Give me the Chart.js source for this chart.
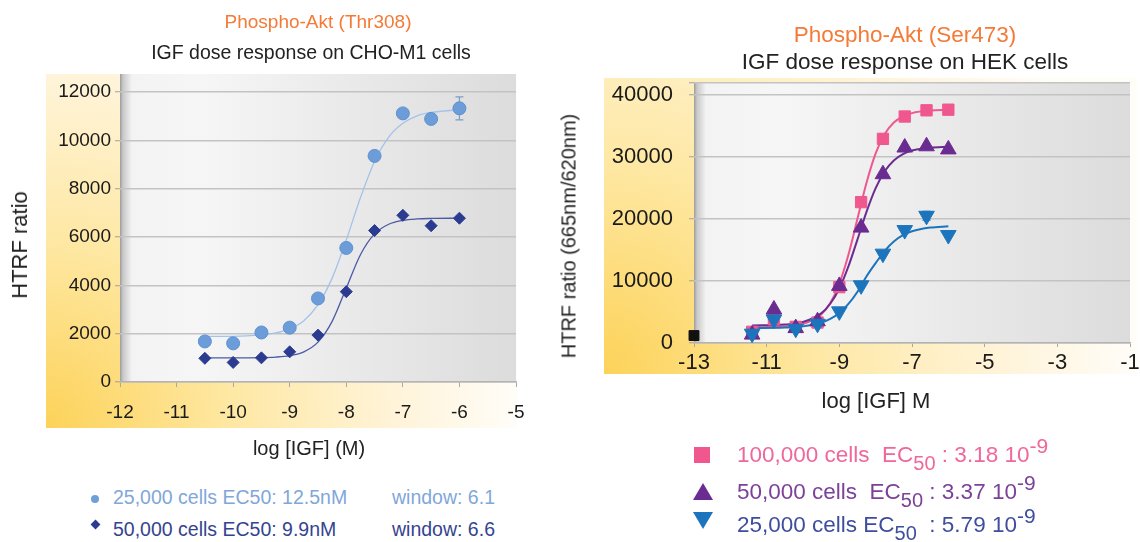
<!DOCTYPE html>
<html>
<head>
<meta charset="utf-8">
<script src="https://cdn.jsdelivr.net/npm/chart.js@4.4.1/dist/chart.umd.min.js"></script>
<style>
  html, body { margin: 0; padding: 0; background: #fff; width: 1140px; height: 542px; overflow: hidden;
    font-family: "Liberation Sans", Arial, sans-serif; }
  canvas { position: absolute; }
  .t { position: absolute; white-space: nowrap; transform: translate(-50%, -50%); color: #222; }
  .l { position: absolute; white-space: nowrap; transform: translateY(-50%); }
  .sub { font-size: 20px; position: relative; top: 8px; }
  .sup { font-size: 21px; position: relative; top: -9px; }
  .mk { position: absolute; }
</style>
</head>
<body>
<canvas id="cho" width="545" height="460" style="left:0;top:0"></canvas>
<canvas id="hek" width="570" height="420" style="left:570px;top:0"></canvas>

<div class="t" style="left:318px;top:22px;font-size:19px;color:#f47a36">Phospho-Akt (Thr308)</div>
<div class="t" style="left:311px;top:52px;font-size:19.5px">IGF dose response on CHO-M1 cells</div>
<div class="t" style="left:20px;top:245px;font-size:22px;transform:translate(-50%,-50%) rotate(-90deg)">HTRF ratio</div>
<div class="t" style="left:309px;top:448px;font-size:20px">log [IGF] (M)</div>

<div class="mk" style="left:91px;top:495px;width:8px;height:8px;border-radius:50%;background:#6f9fd8"></div>
<div class="l" style="left:113px;top:497px;font-size:19.5px;color:#7fa7da">25,000 cells EC50: 12.5nM</div>
<div class="l" style="left:392px;top:497px;font-size:19.5px;color:#7fa7da">window: 6.1</div>
<div class="mk" style="left:91.5px;top:520.5px;width:7px;height:7px;transform:rotate(45deg);background:#2b3b90"></div>
<div class="l" style="left:113px;top:529px;font-size:19.5px;color:#34448f">50,000 cells EC50: 9.9nM</div>
<div class="l" style="left:392px;top:529px;font-size:19.5px;color:#34448f">window: 6.6</div>

<div class="t" style="left:905px;top:35px;font-size:22.5px;color:#f47a36">Phospho-Akt (Ser473)</div>
<div class="t" style="left:905px;top:62px;font-size:22.5px">IGF dose response on HEK cells</div>
<div class="t" style="left:569px;top:236px;font-size:20px;transform:translate(-50%,-50%) rotate(-90deg)">HTRF ratio (665nm/620nm)</div>
<div class="t" style="left:876px;top:401px;font-size:22px">log [IGF] M</div>

<div class="mk" style="left:694px;top:447px;width:16px;height:16px;background:#f0578e"></div>
<div class="l" style="left:737px;top:455px;font-size:22.5px;color:#f0679a">100,000 cells&nbsp; EC<span class="sub">50</span> : 3.18 10<span class="sup">-9</span></div>
<div class="mk" style="left:693px;top:483px;width:0;height:0;border-left:10px solid transparent;border-right:10px solid transparent;border-bottom:17px solid #6b2c91"></div>
<div class="l" style="left:737px;top:492px;font-size:22.5px;color:#7c4199">50,000 cells&nbsp; EC<span class="sub">50</span> : 3.37 10<span class="sup">-9</span></div>
<div class="mk" style="left:693px;top:512px;width:0;height:0;border-left:10px solid transparent;border-right:10px solid transparent;border-top:17px solid #1c75bc"></div>
<div class="l" style="left:737px;top:525px;font-size:22.5px;color:#3e4e9e">25,000 cells EC<span class="sub">50</span>&nbsp; : 5.79 10<span class="sup">-9</span></div>

<script>
// CHO-M1 cells, Phospho-Akt (Thr308)
const choDose = [-10.5, -10, -9.5, -9, -8.5, -8, -7.5, -7, -6.5, -6];
const cho25k = [1680, 1600, 2050, 2250, 3460, 5550, 9360, 11120, 10890, 11330];
const cho50k = [980, 810, 1000, 1250, 1940, 3740, 6270, 6900, 6470, 6780];
const cho25kErrLow = [null, null, null, null, null, null, null, null, null, 10850];
const cho25kErrHigh = [null, null, null, null, null, null, null, null, null, 11800];
const choFitDose = [-10.5, -10, -9.5, -9.25, -9, -8.75, -8.5, -8.25, -8, -7.75, -7.5, -7.25, -7, -6.75, -6.5, -6];
const cho25kFit = [1890, 1890, 1950, 2030, 2200, 2540, 3200, 4300, 5880, 7630, 9130, 10140, 10710, 11020, 11160, 11270];
const cho50kFit = [1000, 1000, 1010, 1030, 1090, 1250, 1650, 2510, 3890, 5270, 6130, 6530, 6690, 6750, 6770, 6780];
const choXTicks = [-12, -11, -10, -9, -8, -7, -6, -5];
const choYTicks = [0, 2000, 4000, 6000, 8000, 10000, 12000];

// HEK cells, Phospho-Akt (Ser473)
const hekDose = [-11.4, -10.8, -10.2, -9.6, -9.0, -8.4, -7.8, -7.2, -6.6, -6.0];
const hek100k = [1800, 3800, 2600, 3300, 9000, 22700, 32900, 36500, 37500, 37600];
const hek50k = [1350, 5400, 2400, 3500, 9200, 18600, 27200, 31500, 31700, 31200];
const hek25k = [1500, 3800, 2300, 3100, 5100, 9300, 14400, 18200, 20500, 17400];
const hek25kErrLow = [null, null, null, null, null, null, null, null, 19800, null];
const hek25kErrHigh = [null, null, null, null, null, null, null, null, 21200, null];
const blankDose = [-13];
const blankValue = [1200];
const hekFitDose = [-11.4, -10.5, -10, -9.5, -9.25, -9, -8.75, -8.5, -8.25, -8, -7.75, -7.5, -7.25, -7, -6.5, -6];
const hek100kFit = [2520, 2640, 3050, 4590, 6430, 9550, 14220, 20050, 25880, 30560, 33670, 35520, 36520, 37050, 37460, 37560];
const hek50kFit = [2820, 2970, 3390, 4780, 6320, 8780, 12340, 16700, 21170, 24960, 27690, 29420, 30440, 31020, 31500, 31640];
const hek25kFit = [2410, 2490, 2680, 3260, 3870, 4840, 6290, 8250, 10750, 12880, 14860, 16360, 17370, 18000, 18600, 18800];
const hekXTicks = [-13, -11, -9, -7, -5, -3, -1];
const hekYTicks = [0, 10000, 20000, 30000, 40000];

function pts(xs, ys) {
  return xs.map((x, i) => ({ x: x, y: ys[i] }));
}

// yellow panel behind the axes + grey plot area
function panelPlugin(pad) {
  return {
    id: 'panel',
    beforeDraw(chart) {
      const ctx = chart.ctx, a = chart.chartArea;
      const x0 = a.left - pad.l, x1 = a.right + pad.r, y0 = a.top - pad.t, y1 = a.bottom + pad.b;
      ctx.save();
      const yg = ctx.createRadialGradient(x0, y1, 0, x0, y1, x1 - x0);
      yg.addColorStop(0, '#fcd258');
      yg.addColorStop(0.4, '#fee8a4');
      yg.addColorStop(0.75, '#fff4da');
      yg.addColorStop(1, '#fffdf8');
      ctx.fillStyle = yg;
      ctx.fillRect(x0, y0, x1 - x0, y1 - y0);
      const w = a.right - a.left;
      const gg = ctx.createLinearGradient(a.left, 0, a.right, 0);
      gg.addColorStop(0, '#9c9c9c');
      gg.addColorStop(3 / w, '#c9c9c9');
      gg.addColorStop(12 / w, '#f3f3f3');
      gg.addColorStop(0.2, '#f6f6f6');
      gg.addColorStop(1, '#dcdcdc');
      ctx.fillStyle = gg;
      ctx.fillRect(a.left, a.top, w, a.bottom - a.top);
      ctx.restore();
    }
  };
}

function errorBarPlugin(bars) {
  return {
    id: 'errbars',
    beforeDatasetsDraw(chart) {
      const xs = chart.scales.x, ys = chart.scales.y, ctx = chart.ctx;
      bars.forEach(b => {
        b.x.forEach((xv, i) => {
          if (b.lo[i] == null) return;
          const px = xs.getPixelForValue(xv);
          const pl = ys.getPixelForValue(b.lo[i]);
          const ph = ys.getPixelForValue(b.hi[i]);
          ctx.save();
          ctx.strokeStyle = b.color;
          ctx.lineWidth = 1.2;
          ctx.beginPath();
          ctx.moveTo(px, pl); ctx.lineTo(px, ph);
          ctx.moveTo(px - b.cap, pl); ctx.lineTo(px + b.cap, pl);
          ctx.moveTo(px - b.cap, ph); ctx.lineTo(px + b.cap, ph);
          ctx.stroke();
          ctx.restore();
        });
      });
    }
  };
}

function scales(o) {
  return {
    x: {
      type: 'linear', min: o.xTicks[0], max: o.xTicks[o.xTicks.length - 1],
      afterBuildTicks: s => { s.ticks = o.xTicks.map(v => ({ value: v })); },
      afterFit: s => { s.height = o.xh; s.paddingLeft = 0; s.paddingRight = 0; },
      ticks: { color: '#1a1a1a', font: { family: 'Liberation Sans', size: o.fs }, padding: o.xpad,
        maxRotation: 0, autoSkip: false, callback: v => String(v) },
      grid: { drawOnChartArea: false, drawTicks: true, tickLength: o.tl, color: '#a8a8a8', lineWidth: 1 },
      border: { display: true, color: '#b3b3b3', width: 1.5 }
    },
    y: {
      type: 'linear', min: 0, max: o.ymax,
      afterBuildTicks: s => { s.ticks = o.yGrid.map(v => ({ value: v })); },
      afterFit: s => { s.width = o.yw; s.paddingTop = 0; s.paddingBottom = 0; },
      ticks: { color: '#1a1a1a', font: { family: 'Liberation Sans', size: o.fs }, padding: o.ypad,
        callback: v => o.yTicks.includes(v) ? String(v) : '' },
      grid: { color: '#c3c3c3', lineWidth: 1.5, tickLength: 5, tickColor: '#a0a0a0', tickWidth: 1 },
      border: { display: false }
    }
  };
}

new Chart(document.getElementById('cho'), {
  type: 'scatter',
  data: {
    datasets: [
      { data: pts(choDose, cho50k), pointStyle: 'rectRot', pointRadius: 6,
        backgroundColor: '#2b3b90', borderColor: '#2b3b90', borderWidth: 1 },
      { data: pts(choDose, cho25k), pointStyle: 'circle', pointRadius: 6.5,
        backgroundColor: '#6d9dd8', borderColor: '#5f92d2', borderWidth: 1 },
      { data: pts(choFitDose, cho50kFit), showLine: true, pointRadius: 0, borderColor: '#4a5aa6',
        borderWidth: 1.3, cubicInterpolationMode: 'monotone' },
      { data: pts(choFitDose, cho25kFit), showLine: true, pointRadius: 0, borderColor: '#a5c2e8',
        borderWidth: 1.3, cubicInterpolationMode: 'monotone' }
    ]
  },
  options: {
    responsive: false, animation: false,
    layout: { padding: { top: 74, right: 29, left: 0, bottom: 0 } },
    plugins: { legend: { display: false }, tooltip: { enabled: false } },
    scales: scales({ xTicks: choXTicks, yTicks: choYTicks, yGrid: choYTicks, ymax: 12750,
      xh: 78, yw: 120, fs: 19, xpad: 14, ypad: 4, tl: 5 })
  },
  plugins: [
    panelPlugin({ l: 74, r: 1, t: 0, b: 46 }),
    errorBarPlugin([{ x: choDose, lo: cho25kErrLow, hi: cho25kErrHigh, color: '#7f9cc6', cap: 4 }])
  ]
});

new Chart(document.getElementById('hek'), {
  type: 'scatter',
  data: {
    datasets: [
      { data: pts(blankDose, blankValue), pointStyle: 'rect', pointRadius: 7, clip: false,
        backgroundColor: '#111', borderColor: '#111' },
      { data: pts(hekDose, hek25k), pointStyle: 'triangle', rotation: 180, pointRadius: 9,
        backgroundColor: '#1c75bc', borderColor: '#1c75bc' },
      { data: pts(hekDose, hek50k), pointStyle: 'triangle', pointRadius: 9,
        backgroundColor: '#6b2c91', borderColor: '#6b2c91' },
      { data: pts(hekDose, hek100k), pointStyle: 'rect', pointRadius: 8,
        backgroundColor: '#f0578e', borderColor: '#f0578e' },
      { data: pts(hekFitDose, hek25kFit), showLine: true, pointRadius: 0, borderColor: '#1c75bc',
        borderWidth: 2, cubicInterpolationMode: 'monotone' },
      { data: pts(hekFitDose, hek50kFit), showLine: true, pointRadius: 0, borderColor: '#6b2c91',
        borderWidth: 2, cubicInterpolationMode: 'monotone' },
      { data: pts(hekFitDose, hek100kFit), showLine: true, pointRadius: 0, borderColor: '#f0578e',
        borderWidth: 2, cubicInterpolationMode: 'monotone' }
    ]
  },
  options: {
    responsive: false, animation: false,
    layout: { padding: { top: 83, right: 7, left: 0, bottom: 0 } },
    plugins: { legend: { display: false }, tooltip: { enabled: false } },
    scales: scales({ xTicks: hekXTicks, yTicks: hekYTicks, yGrid: hekYTicks.concat([41900]), ymax: 41900,
      xh: 77, yw: 124, fs: 22, xpad: 3, ypad: 16, tl: 4 })
  },
  plugins: [
    panelPlugin({ l: 90, r: 7, t: 5, b: 31 }),
    errorBarPlugin([{ x: hekDose, lo: hek25kErrLow, hi: hek25kErrHigh, color: '#1c75bc', cap: 4 }])
  ]
});
</script>
</body>
</html>
